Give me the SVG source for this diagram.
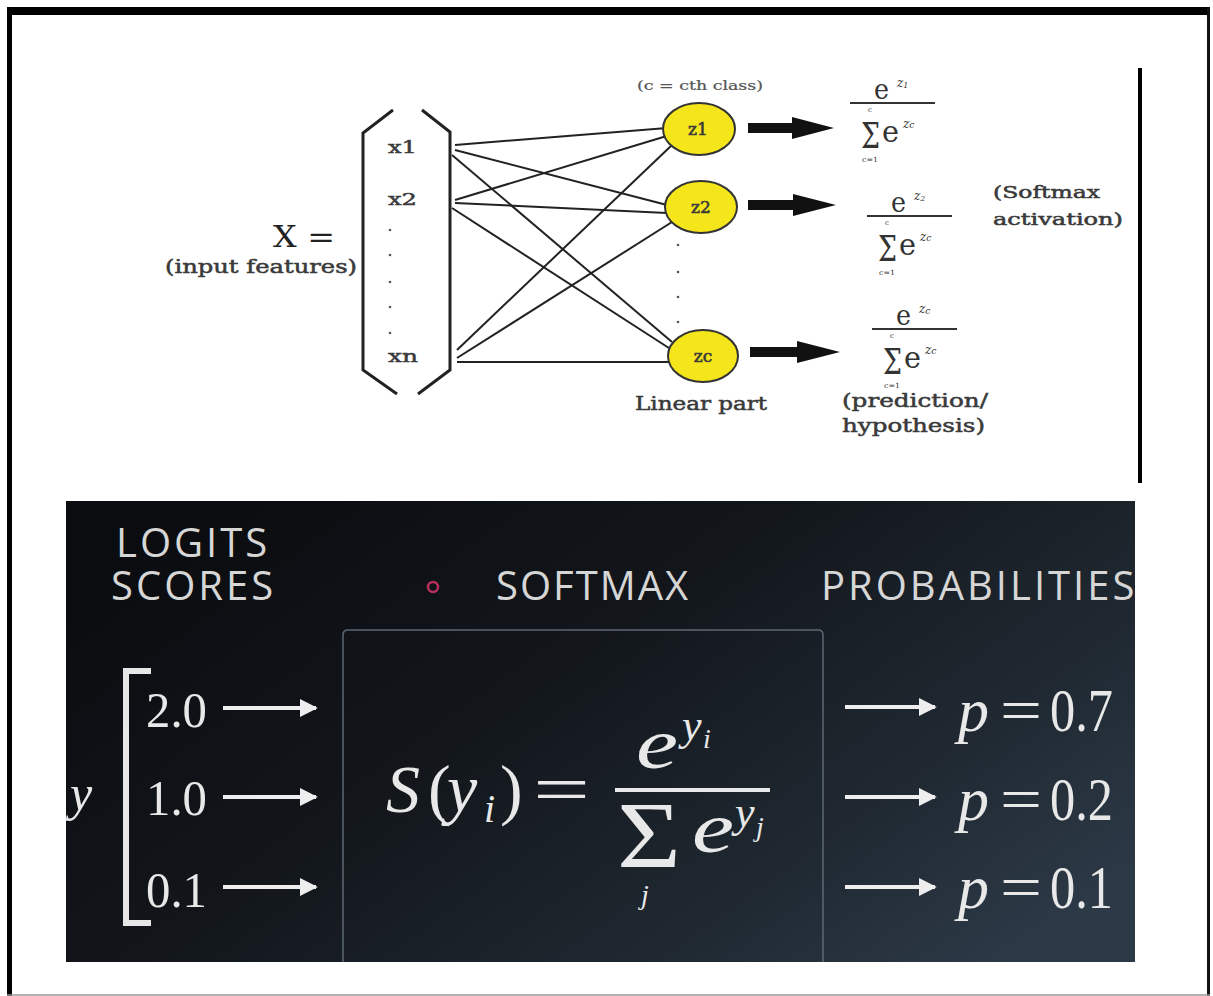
<svg xmlns="http://www.w3.org/2000/svg" width="1213" height="996" viewBox="0 0 1213 996">
<defs>
<linearGradient id="panelGrad" x1="0" y1="0.2" x2="1" y2="0.8">
<stop offset="0" stop-color="#0a0c0f"/>
<stop offset="0.4" stop-color="#12161b"/>
<stop offset="0.75" stop-color="#1f2831"/>
<stop offset="1" stop-color="#2c3946"/>
</linearGradient>
<marker id="wArrow" viewBox="0 0 10 10" refX="9" refY="5" markerWidth="4.5" markerHeight="4.5" orient="auto" markerUnits="strokeWidth">
<path d="M0,0 L10,5 L0,10 z" fill="#eeeeee"/>
</marker>
</defs>
<style>
.ser{font-family:"DejaVu Serif","Liberation Serif",serif;fill:#3a3a3a;stroke:#3a3a3a;stroke-width:0.5}
.serr{font-family:"DejaVu Serif","Liberation Serif",serif;fill:#222}
.conn line{stroke:#222;stroke-width:2}
.node ellipse{fill:#f5e61c;stroke:#333;stroke-width:2}
.nlab{font-family:"DejaVu Serif","Liberation Serif",serif;font-size:17px;fill:#3a3a3a;stroke:#3a3a3a;stroke-width:0.6;text-anchor:middle}
.big{fill:#111}
.fx{font-family:"DejaVu Serif","Liberation Serif",serif;fill:#333}
.sans{font-family:"Open Sans","Liberation Sans",sans-serif;fill:#d6d6d6;font-size:40px;letter-spacing:3px}
.math{font-family:"Liberation Serif","DejaVu Serif",serif;fill:#e8e8e8}
.it{font-style:italic}
.warr{stroke:#eeeeee;stroke-width:4;marker-end:url(#wArrow)}
</style>
<rect width="1213" height="996" fill="#ffffff"/>
<g id="frame">
<rect x="7" y="7" width="1203" height="8" fill="#000"/>
<rect x="7" y="7" width="5" height="989" fill="#000"/>
<rect x="1207" y="7" width="3" height="989" fill="#111"/>
<line x1="7" y1="995" x2="1210" y2="995" stroke="#999" stroke-width="1.5"/>
<rect x="1138" y="68" width="4" height="415" fill="#000"/>
</g>
<g id="input-label">
<text class="serr" x="273" y="247" font-size="30" textLength="62" lengthAdjust="spacingAndGlyphs">X =</text>
<text class="ser" x="165" y="273" font-size="18" textLength="192" lengthAdjust="spacingAndGlyphs">(input features)</text>
</g>
<g id="input-vector">
<path d="M393,110 L363,133 L363,370 L397,394" fill="none" stroke="#222" stroke-width="3"/>
<path d="M422,110 L450,132 L450,370 L418,394" fill="none" stroke="#222" stroke-width="3"/>
<text class="ser" x="388" y="153" font-size="17" textLength="29" lengthAdjust="spacingAndGlyphs">x1</text>
<text class="ser" x="388" y="205" font-size="17" textLength="29" lengthAdjust="spacingAndGlyphs">x2</text>
<g fill="#555">
<circle cx="390" cy="230" r="1.3"/><circle cx="390" cy="255" r="1.3"/><circle cx="390" cy="282" r="1.3"/><circle cx="390" cy="307" r="1.3"/><circle cx="390" cy="333" r="1.3"/>
</g>
<text class="ser" x="388" y="362" font-size="17" textLength="30" lengthAdjust="spacingAndGlyphs">xn</text>
</g>
<g id="connectors" class="conn">
<line x1="455" y1="145" x2="667" y2="128"/>
<line x1="455" y1="150" x2="667" y2="205"/>
<line x1="452" y1="155" x2="672" y2="342"/>
<line x1="455" y1="200" x2="670" y2="135"/>
<line x1="455" y1="203" x2="667" y2="213"/>
<line x1="452" y1="208" x2="672" y2="350"/>
<line x1="457" y1="350" x2="672" y2="145"/>
<line x1="457" y1="358" x2="672" y2="222"/>
<line x1="457" y1="362" x2="672" y2="362"/>
</g>
<text class="ser" x="637" y="90" font-size="12" textLength="126" lengthAdjust="spacingAndGlyphs" style="stroke-width:0.2;fill:#555;stroke:#555">(c = cth class)</text>
<g id="node-z1" class="node"><ellipse cx="699" cy="129" rx="36" ry="26"/><text class="nlab" x="698" y="135">z1</text></g>
<g id="node-z2" class="node"><ellipse cx="701" cy="207" rx="36" ry="26"/><text class="nlab" x="701" y="213">z2</text></g>
<g id="node-zc" class="node"><ellipse cx="703" cy="356" rx="35" ry="26"/><text class="nlab" x="703" y="362">zc</text></g>
<g fill="#555">
<circle cx="678" cy="245" r="1.3"/><circle cx="678" cy="272" r="1.3"/><circle cx="678" cy="297" r="1.3"/><circle cx="678" cy="322" r="1.3"/>
</g>
<text class="ser" x="635" y="410" font-size="18" textLength="132" lengthAdjust="spacingAndGlyphs">Linear part</text>
<g id="big-arrows" class="big">
<polygon points="748,123 792,123 792,117 834,128 792,139 792,133 748,133"/>
<polygon points="748,200 793,200 793,194 836,205 793,216 793,210 748,210"/>
<polygon points="750,347 797,347 797,341 840,352 797,363 797,357 750,357"/>
</g>
<g id="formula-1" class="fx">
<text x="874" y="99" font-size="28" textLength="15" lengthAdjust="spacingAndGlyphs">e</text>
<text x="897" y="87" font-size="12" font-style="italic">z<tspan font-size="8" dy="1">1</tspan></text>
<line x1="850" y1="103" x2="935" y2="103" stroke="#333" stroke-width="2"/>
<text x="868" y="112" font-size="7">c</text>
<text x="861" y="148" font-size="36" textLength="19" lengthAdjust="spacingAndGlyphs">Σ</text>
<text x="882" y="142" font-size="30" textLength="17" lengthAdjust="spacingAndGlyphs">e</text>
<text x="903" y="128" font-size="12" font-style="italic">z<tspan font-size="9">c</tspan></text>
<text x="862" y="162" font-size="7" textLength="16" lengthAdjust="spacingAndGlyphs">c=1</text>
</g>
<g id="formula-2" class="fx" transform="translate(17,113)">
<text x="874" y="99" font-size="28" textLength="15" lengthAdjust="spacingAndGlyphs">e</text>
<text x="897" y="87" font-size="12" font-style="italic">z<tspan font-size="8" dy="1">2</tspan></text>
<line x1="850" y1="103" x2="935" y2="103" stroke="#333" stroke-width="2"/>
<text x="868" y="112" font-size="7">c</text>
<text x="861" y="148" font-size="36" textLength="19" lengthAdjust="spacingAndGlyphs">Σ</text>
<text x="882" y="142" font-size="30" textLength="17" lengthAdjust="spacingAndGlyphs">e</text>
<text x="903" y="128" font-size="12" font-style="italic">z<tspan font-size="9">c</tspan></text>
<text x="862" y="162" font-size="7" textLength="16" lengthAdjust="spacingAndGlyphs">c=1</text>
</g>
<g id="formula-3" class="fx" transform="translate(22,226)">
<text x="874" y="99" font-size="28" textLength="15" lengthAdjust="spacingAndGlyphs">e</text>
<text x="897" y="87" font-size="12" font-style="italic">z<tspan font-size="9" dy="1">c</tspan></text>
<line x1="850" y1="103" x2="935" y2="103" stroke="#333" stroke-width="2"/>
<text x="868" y="112" font-size="7">c</text>
<text x="861" y="148" font-size="36" textLength="19" lengthAdjust="spacingAndGlyphs">Σ</text>
<text x="882" y="142" font-size="30" textLength="17" lengthAdjust="spacingAndGlyphs">e</text>
<text x="903" y="128" font-size="12" font-style="italic">z<tspan font-size="9">c</tspan></text>
<text x="862" y="162" font-size="7" textLength="16" lengthAdjust="spacingAndGlyphs">c=1</text>
</g>
<g id="labels-right">
<text class="ser" x="842" y="407" font-size="18" textLength="146" lengthAdjust="spacingAndGlyphs">(prediction/</text>
<text class="ser" x="842" y="432" font-size="18" textLength="143" lengthAdjust="spacingAndGlyphs">hypothesis)</text>
<text class="ser" x="993" y="198" font-size="16" textLength="107" lengthAdjust="spacingAndGlyphs">(Softmax</text>
<text class="ser" x="993" y="225" font-size="16" textLength="130" lengthAdjust="spacingAndGlyphs">activation)</text>
</g>
<g id="softmax-panel">
<rect x="66" y="501" width="1069" height="461" fill="url(#panelGrad)"/>
<path d="M343,962 V635 Q343,630 348,630 H818 Q823,630 823,635 V962" fill="none" stroke="#5d6873" stroke-width="1.5"/>
<text class="sans" x="116" y="557">LOGITS</text>
<text class="sans" x="111" y="600">SCORES</text>
<circle cx="433" cy="587" r="5" fill="none" stroke="#b8305a" stroke-width="2.5"/>
<text class="sans" x="496" y="600" style="letter-spacing:2px">SOFTMAX</text>
<text class="sans" x="821" y="600">PROBABILITIES</text>
</g>
<g id="logits">
<text class="math it" x="70" y="810" font-size="50">y</text>
<path d="M151,671 H126 V923 H151" fill="none" stroke="#e6e6e6" stroke-width="6"/>
<text class="math" x="146" y="727" font-size="50" textLength="61" lengthAdjust="spacingAndGlyphs">2.0</text>
<text class="math" x="146" y="815" font-size="50" textLength="61" lengthAdjust="spacingAndGlyphs">1.0</text>
<text class="math" x="146" y="907" font-size="50" textLength="61" lengthAdjust="spacingAndGlyphs">0.1</text>
</g>
<g id="arrows-in">
<line class="warr" x1="223" y1="708" x2="316" y2="708"/>
<line class="warr" x1="223" y1="797" x2="316" y2="797"/>
<line class="warr" x1="223" y1="887" x2="316" y2="887"/>
</g>
<g id="softmax-formula" class="math">
<text class="it" x="386" y="812" font-size="68">S</text>
<text x="428" y="812" font-size="68">(</text>
<text class="it" x="447" y="812" font-size="68">y</text>
<text class="it" x="484" y="822" font-size="40">i</text>
<text x="500" y="812" font-size="68">)</text>
<text x="533" y="812" font-size="68" textLength="57" lengthAdjust="spacingAndGlyphs">=</text>
<text class="it" x="636" y="768" font-size="72" textLength="42" lengthAdjust="spacingAndGlyphs">e</text>
<text class="it" x="682" y="740" font-size="44">y</text>
<text class="it" x="703" y="748" font-size="28">i</text>
<line x1="615" y1="790" x2="770" y2="790" stroke="#e8e8e8" stroke-width="4"/>
<text x="617" y="868" font-size="96" textLength="64" lengthAdjust="spacingAndGlyphs">Σ</text>
<text class="it" x="641" y="904" font-size="28">j</text>
<text class="it" x="692" y="852" font-size="72" textLength="42" lengthAdjust="spacingAndGlyphs">e</text>
<text class="it" x="735" y="827" font-size="44">y</text>
<text class="it" x="756" y="836" font-size="28">j</text>
</g>
<g id="arrows-out">
<line class="warr" x1="845" y1="707" x2="935" y2="707"/>
<line class="warr" x1="845" y1="797" x2="935" y2="797"/>
<line class="warr" x1="845" y1="887" x2="935" y2="887"/>
</g>
<g id="probabilities" class="math">
<text class="it" x="958" y="731" font-size="62">p</text>
<text x="1000" y="731" font-size="62" textLength="42" lengthAdjust="spacingAndGlyphs">=</text>
<text x="1050" y="731" font-size="62" textLength="63" lengthAdjust="spacingAndGlyphs">0.7</text>
<text class="it" x="958" y="820" font-size="62">p</text>
<text x="1000" y="820" font-size="62" textLength="42" lengthAdjust="spacingAndGlyphs">=</text>
<text x="1050" y="820" font-size="62" textLength="63" lengthAdjust="spacingAndGlyphs">0.2</text>
<text class="it" x="958" y="908" font-size="62">p</text>
<text x="1000" y="908" font-size="62" textLength="42" lengthAdjust="spacingAndGlyphs">=</text>
<text x="1050" y="908" font-size="62" textLength="63" lengthAdjust="spacingAndGlyphs">0.1</text>
</g>
</svg>
